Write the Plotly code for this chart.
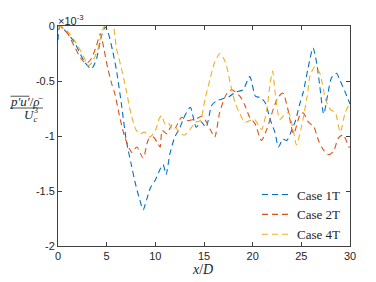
import plotly.graph_objects as go

# values in units of 1e-3
x_1T = [0, 0.2, 0.8, 1.7, 2.75, 3.43, 3.95, 4.47, 4.85, 5.15, 5.6, 6.0, 6.5, 7.0, 7.5, 8.0, 8.4, 8.75, 9.1, 9.5, 10.0, 10.5, 10.8, 11.1, 11.5, 12.0, 12.5, 13.0, 13.6, 14.2, 14.7, 15.2, 15.8, 16.3, 17.0, 17.6, 18.3, 19.0, 19.7, 20.3, 20.8, 21.3, 21.8, 22.3, 22.65, 23.1, 23.5, 24.0, 24.4, 24.8, 25.2, 25.7, 26.2, 26.6, 26.9, 27.3, 27.7, 28.1, 28.6, 29.0, 29.5, 30.0]
y_1T = [-0.13, 0.0, -0.05, -0.15, -0.33, -0.39, -0.30, -0.09, -0.01, -0.06, -0.22, -0.40, -0.70, -1.03, -1.25, -1.45, -1.58, -1.67, -1.58, -1.47, -1.40, -1.30, -1.26, -1.35, -1.16, -1.01, -0.93, -0.82, -0.74, -0.92, -0.87, -0.92, -0.72, -0.68, -0.66, -0.64, -0.60, -0.58, -0.46, -0.64, -0.65, -0.70, -0.85, -0.97, -1.10, -1.03, -1.04, -0.95, -0.86, -0.72, -0.60, -0.38, -0.20, -0.35, -0.55, -0.80, -0.63, -0.47, -0.43, -0.50, -0.60, -0.71]

x_2T = [0, 0.2, 1.0, 1.7, 2.4, 2.9, 3.4, 3.95, 4.35, 4.7, 5.1, 5.5, 5.85, 6.4, 6.9, 7.6, 8.1, 8.75, 9.3, 9.8, 10.2, 10.5, 10.7, 11.2, 11.7, 12.0, 12.7, 13.2, 13.9, 14.3, 14.8, 15.3, 15.7, 16.1, 16.6, 17.3, 17.85, 18.7, 19.2, 19.7, 20.25, 20.9, 21.45, 22.1, 22.6, 23.1, 23.6, 24.2, 24.9, 25.2, 25.7, 26.3, 26.8, 27.3, 27.8, 28.3, 28.8, 29.3, 29.9, 30.0]
y_2T = [0.0, 0.0, -0.07, -0.19, -0.30, -0.34, -0.30, -0.18, -0.07, -0.20, -0.38, -0.52, -0.62, -0.85, -1.02, -1.15, -1.10, -1.20, -1.03, -1.01, -1.06, -1.10, -0.95, -0.98, -0.90, -0.93, -0.83, -0.86, -0.85, -0.84, -0.82, -0.88, -0.95, -1.01, -0.79, -0.62, -0.58, -0.64, -0.72, -0.83, -0.89, -1.04, -0.94, -0.76, -0.65, -0.61, -0.75, -0.98, -0.80, -0.79, -0.87, -0.92, -1.05, -1.13, -1.17, -1.14, -1.02, -0.99, -1.10, -1.10]

x_4T = [0, 0.4, 1.0, 1.9, 2.75, 3.1, 3.5, 4.1, 4.6, 5.1, 5.6, 6.0, 6.5, 7.0, 7.5, 8.0, 8.4, 8.9, 9.4, 9.8, 10.1, 10.4, 10.65, 11.0, 11.3, 11.7, 12.1, 12.5, 13.05, 13.6, 14.1, 14.6, 15.1, 15.6, 16.1, 16.65, 17.2, 17.7, 18.2, 18.7, 19.2, 19.7, 20.2, 20.9, 21.45, 21.8, 22.05, 22.3, 22.8, 23.3, 23.7, 24.2, 24.5, 25.05, 25.6, 25.9, 26.4, 26.9, 27.5, 28.0, 28.5, 29.0, 29.5, 30.0]
y_4T = [0.0, -0.01, -0.05, -0.16, -0.30, -0.36, -0.33, -0.21, -0.03, 0.03, 0.02, -0.20, -0.38, -0.58, -0.80, -0.94, -0.98, -0.965, -1.01, -0.98, -0.93, -0.84, -0.815, -0.89, -0.875, -0.93, -0.92, -0.98, -0.99, -0.935, -0.875, -0.86, -0.67, -0.49, -0.33, -0.25, -0.33, -0.52, -0.70, -0.80, -0.875, -0.86, -0.85, -0.94, -0.76, -0.52, -0.41, -0.60, -0.85, -0.80, -0.79, -0.965, -1.08, -0.90, -0.64, -0.45, -0.37, -0.43, -0.67, -0.76, -0.79, -0.965, -0.79, -0.70]

names = ["Case 1T", "Case 2T", "Case 4T"]
colors = ["#0072BD", "#D95319", "#EDB120"]
x_ticks = [0, 5, 10, 15, 20, 25, 30]
y_ticks = [0, -0.5, -1, -1.5, -2]
y_ticklabels = ["0", "-0.5", "-1", "-1.5", "-2"]

fig = go.Figure()
for xs, ys, n, c in zip([x_1T, x_2T, x_4T], [y_1T, y_2T, y_4T], names, colors):
    fig.add_trace(go.Scatter(x=xs, y=ys, mode="lines", name=n,
                             line=dict(color=c, width=1.1, dash="6px,4px", shape="spline", smoothing=0.7)))

axis_common = dict(showline=True, linecolor="#404040", linewidth=0.8, mirror="ticks",
                   ticks="inside", ticklen=4, tickcolor="#404040", tickwidth=0.8,
                   showgrid=False, zeroline=False,
                   tickfont=dict(family="Liberation Sans, Arial", size=11, color="#262626"))

fig.update_xaxes(range=[0, 30], tickvals=x_ticks, **axis_common)
fig.update_yaxes(range=[-2, 0], tickvals=y_ticks, ticktext=y_ticklabels, **axis_common)

serif = "Liberation Serif, Times New Roman, serif"


# helpers: page pixel -> paper coords (plot area spans page x 58..350, y 22..246)
def px(xp):
    return (xp - 58) / 292


def py(yp):
    return 1 - (yp - 22) / 224


# the page body has an 8px margin, so the figure is shrunk by 8px and margins adjusted
fig.update_layout(
    width=368, height=274,
    margin=dict(l=50, r=26, t=14, b=36),
    paper_bgcolor="white", plot_bgcolor="white",
    showlegend=True,
    legend=dict(x=px(346), y=py(214), xanchor="right", yanchor="middle",
                bgcolor="rgba(255,255,255,0)", font=dict(family=serif, size=13, color="#262626"),
                tracegroupgap=0, itemwidth=30),
    annotations=[
        dict(xref="paper", yref="paper", x=0, y=1, xanchor="left", yanchor="bottom",
             text="×10<sup>-3</sup>", showarrow=False, xshift=-2, yshift=-3,
             font=dict(family="Liberation Sans, Arial", size=11, color="#262626")),
        dict(xref="paper", yref="paper", x=px(202), y=py(270), xanchor="center", yanchor="middle",
             text="<i>x</i>/<i>D</i>", showarrow=False,
             font=dict(family=serif, size=14, color="#262626")),
    ],
)

fig.add_annotation(xref="paper", yref="paper", x=px(26.5), y=py(99), xanchor="center", yanchor="middle",
                   text="<i>p′u′</i>/<i>ρ̄</i>", showarrow=False,
                   font=dict(family=serif, size=13, color="#262626"))
fig.add_annotation(xref="paper", yref="paper", x=px(30), y=py(113), xanchor="center", yanchor="middle",
                   text="<i>U</i><sub><i>c</i></sub>", showarrow=False,
                   font=dict(family=serif, size=13, color="#262626"))
fig.add_annotation(xref="paper", yref="paper", x=px(36), y=py(108.5), xanchor="center", yanchor="middle",
                   text="3", showarrow=False,
                   font=dict(family=serif, size=8, color="#262626"))
fig.add_shape(type="line", xref="paper", yref="paper", x0=px(10), x1=px(43), y0=py(105.5), y1=py(105.5),
              line=dict(color="#262626", width=0.8))
fig.add_shape(type="line", xref="paper", yref="paper", x0=px(10.5), x1=px(29.5), y0=py(93.5), y1=py(93.5),
              line=dict(color="#262626", width=0.8))

fig.write_html("out.html")
